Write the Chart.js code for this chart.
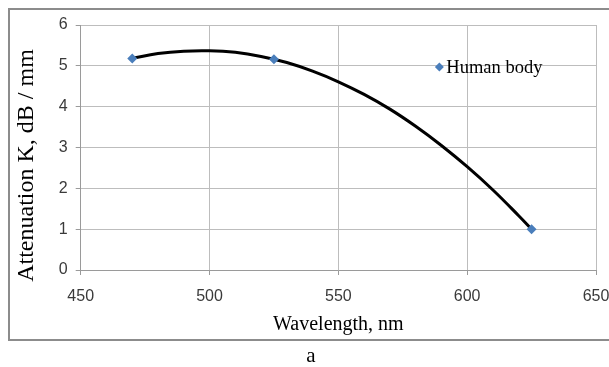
<!DOCTYPE html>
<html>
<head>
<meta charset="utf-8">
<script src="https://cdn.jsdelivr.net/npm/chart.js@4.4.1/dist/chart.umd.min.js"></script>
<style>
    html, body { margin: 0; padding: 0; background: #fff; }
    #wrap { width: 609px; height: 367px; position: relative; }
</style>
</head>
<body>
<div id="wrap"><canvas id="chart"></canvas></div>
<script>
// measured points
const wavelength = [470, 525, 625];
const attenuation = [5.18, 5.16, 1.0];

// polynomial trendline, values
const trendX = [470, 480, 490, 500, 510, 520, 530, 540, 550, 560, 570, 580, 590, 600, 610, 620, 625];
const trendY = [5.18, 5.30, 5.36, 5.37, 5.33, 5.23, 5.08, 4.87, 4.61, 4.30, 3.94, 3.52, 3.05, 2.53, 1.96, 1.33, 1.0];

const xTicks = [450, 500, 550, 600, 650];
const yTicks = [0, 1, 2, 3, 4, 5, 6];

const seriesName = 'Human body';
const caption = 'a';

const serif = '"Liberation Serif", "Times New Roman", serif';
const sans = '"Liberation Sans", Arial, sans-serif';
const blue = '#4a7ebb';

// frame, legend and caption
const extras = {
    id: 'extras',
    beforeDraw(chart) {
        const ctx = chart.ctx;
        ctx.save();
        ctx.fillStyle = '#fff';
        ctx.fillRect(0, 0, chart.width, chart.height);
        ctx.strokeStyle = '#8c8c8c';
        ctx.lineWidth = 2;
        ctx.strokeRect(9, 9, chart.width + 20, 331);
        ctx.restore();
    },
    afterDraw(chart) {
        const ctx = chart.ctx;
        const a = chart.chartArea;
        const lx = a.left + (a.right - a.left) * 0.696;
        const ly = a.top + (a.bottom - a.top) * 0.171;
        ctx.save();
        ctx.fillStyle = blue;
        ctx.beginPath();
        ctx.moveTo(lx, ly - 4.5);
        ctx.lineTo(lx + 4.5, ly);
        ctx.lineTo(lx, ly + 4.5);
        ctx.lineTo(lx - 4.5, ly);
        ctx.closePath();
        ctx.fill();
        ctx.fillStyle = '#000';
        ctx.font = '18.5px ' + serif;
        ctx.textBaseline = 'middle';
        ctx.fillText(seriesName, lx + 7, ly + 1);
        ctx.font = '21px ' + serif;
        ctx.textAlign = 'center';
        ctx.fillText(caption, 311, 356);
        ctx.restore();
    }
};

new Chart(document.getElementById('chart'), {
    type: 'scatter',
    data: {
        datasets: [{
            label: 'trend',
            data: trendX.map((x, i) => ({ x: x, y: trendY[i] })),
            showLine: true,
            borderColor: '#000',
            borderWidth: 3,
            pointRadius: 0,
            tension: 0.4,
            order: 2
        }, {
            label: seriesName,
            data: wavelength.map((x, i) => ({ x: x, y: attenuation[i] })),
            pointStyle: 'rectRot',
            pointRadius: 5,
            backgroundColor: blue,
            borderColor: blue,
            borderWidth: 0,
            order: 1
        }]
    },
    options: {
        responsive: true,
        maintainAspectRatio: false,
        animation: false,
        layout: { padding: { top: 25, left: 12, right: 0, bottom: 30 } },
        plugins: { legend: { display: false }, tooltip: { enabled: false } },
        scales: {
            x: {
                type: 'linear',
                min: 450, max: 650,
                afterBuildTicks: s => { s.ticks = xTicks.map(v => ({ value: v })); },
                // keep the axis box the size the picture has
                afterFit: s => { s.height = 67; s.paddingRight = 13; },
                grid: { color: '#bdbdbd', lineWidth: 1, tickLength: 5, tickColor: '#9a9a9a' },
                border: { color: '#9a9a9a', width: 1 },
                ticks: { color: '#3a3a3a', font: { family: sans, size: 16 }, padding: 12 },
                title: { display: true, text: 'Wavelength, nm', color: '#000', font: { family: serif, size: 20 }, padding: { top: 7, bottom: 0 } }
            },
            y: {
                min: 0, max: 6,
                afterBuildTicks: s => { s.ticks = yTicks.map(v => ({ value: v })); },
                grid: { color: '#bdbdbd', lineWidth: 1, tickLength: 5, tickColor: '#9a9a9a' },
                border: { color: '#9a9a9a', width: 1 },
                ticks: { color: '#3a3a3a', font: { family: sans, size: 16 }, padding: 8 },
                // trailing spaces push the title down a little, as in the picture
                title: { display: true, text: 'Attenuation K, dB / mm      ', color: '#000', font: { family: serif, size: 24 }, padding: { top: 0, bottom: 10 } }
            }
        }
    },
    plugins: [extras]
});
</script>
</body>
</html>
